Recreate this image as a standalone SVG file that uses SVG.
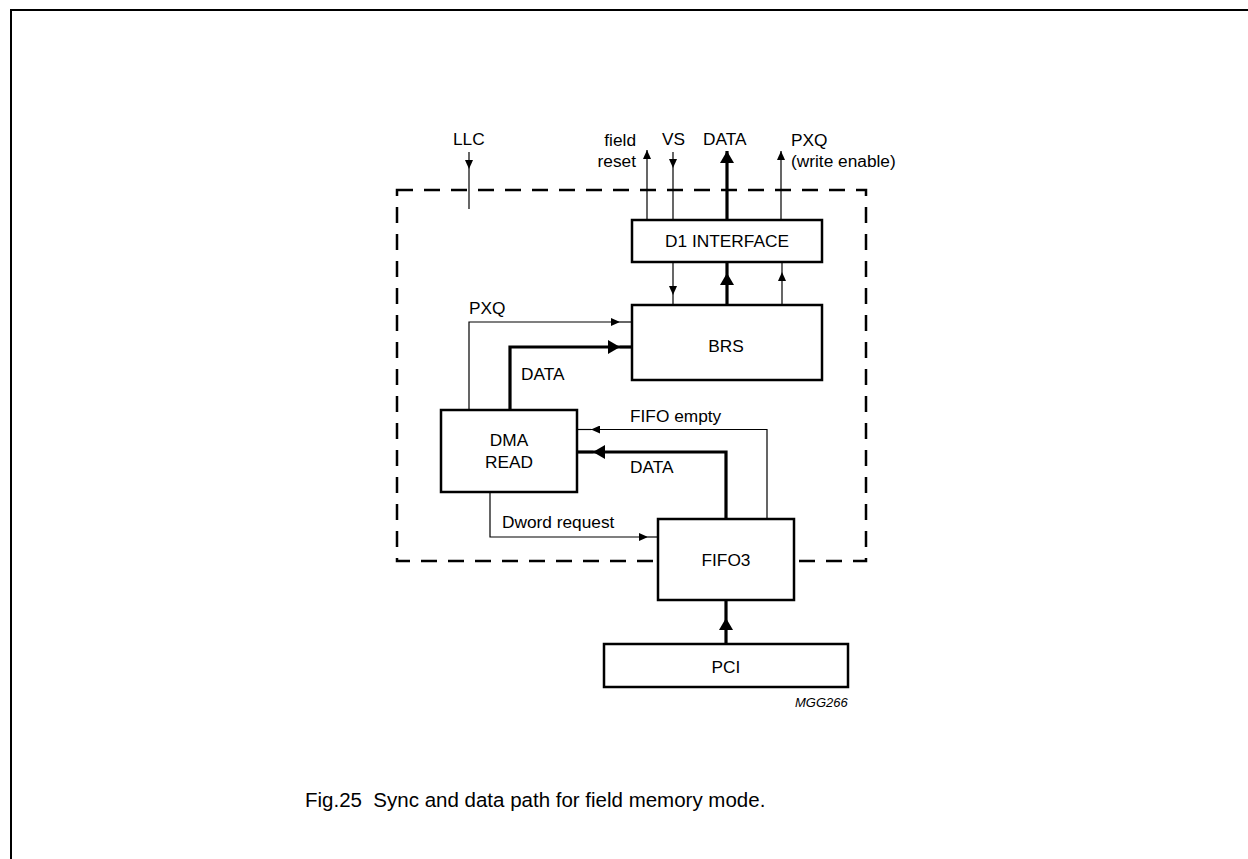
<svg xmlns="http://www.w3.org/2000/svg" width="1248" height="859" viewBox="0 0 1248 859">
<style>
text{font-family:"Liberation Sans",Arial,sans-serif;font-size:17.3px;fill:#000}
.c{text-anchor:middle}
.e{text-anchor:end}
.box{fill:#fff;stroke:#000;stroke-width:2.5}
.thin{fill:none;stroke:#000;stroke-width:1.2}
.thick{fill:none;stroke:#000;stroke-width:3.2}
.dash{fill:none;stroke:#000;stroke-width:2.5;stroke-dasharray:16 11}
</style>
<defs>
<marker id="at" markerUnits="userSpaceOnUse" viewBox="0 0 9 8" refX="9" refY="4" markerWidth="9" markerHeight="8" orient="auto"><path d="M0,0 L9,4 L0,8 z" fill="#000"/></marker>
<marker id="ak" markerUnits="userSpaceOnUse" viewBox="0 0 12 14" refX="12" refY="7" markerWidth="12" markerHeight="14" orient="auto"><path d="M0,0 L12,7 L0,14 z" fill="#000"/></marker>
</defs>
<rect width="1248" height="859" fill="#fff"/>
<path d="M11,859 V10 H1248" fill="none" stroke="#000" stroke-width="2"/>
<rect id="boundary" class="dash" x="397" y="190" width="469" height="371"/>
<g id="connectors">
<path class="thin" d="M469,152 V169" marker-end="url(#at)"/>
<path class="thin" d="M469,169 V209"/>
<path class="thin" d="M647,220 V150" marker-end="url(#at)"/>
<path class="thin" d="M673,152 V168" marker-end="url(#at)"/>
<path class="thin" d="M673,168 V220"/>
<path class="thick" d="M727,220 V151" marker-end="url(#ak)"/>
<path class="thin" d="M781,220 V151" marker-end="url(#at)"/>
<path class="thin" d="M673,262 V295" marker-end="url(#at)"/>
<path class="thin" d="M673,295 V305"/>
<path class="thick" d="M727,305 V273" marker-end="url(#ak)"/>
<path class="thick" d="M727,273 V262"/>
<path class="thin" d="M782,305 V272" marker-end="url(#at)"/>
<path class="thin" d="M782,272 V262"/>
<path class="thin" d="M469,410 V322 H620" marker-end="url(#at)"/>
<path class="thin" d="M620,322 H632"/>
<path class="thick" d="M510,410 V347 H620" marker-end="url(#ak)"/>
<path class="thick" d="M620,347 H632"/>
<path class="thin" d="M767,519 V429.5 H591" marker-end="url(#at)"/>
<path class="thin" d="M591,429.5 H577"/>
<path class="thick" d="M726,519 V452 H593" marker-end="url(#ak)"/>
<path class="thick" d="M593,452 H577"/>
<path class="thin" d="M490,492 V537 H648" marker-end="url(#at)"/>
<path class="thin" d="M648,537 H658"/>
<path class="thick" d="M726,644 V618" marker-end="url(#ak)"/>
<path class="thick" d="M726,618 V600"/>
</g>
<g id="labels">
<text x="453" y="145">LLC</text>
<text class="e" x="636" y="146">field</text>
<text class="e" x="636" y="167">reset</text>
<text x="662" y="145">VS</text>
<text x="703" y="145">DATA</text>
<text x="791" y="146">PXQ</text>
<text x="791" y="167">(write enable)</text>
<text x="469" y="314">PXQ</text>
<text x="521" y="380">DATA</text>
<text x="630" y="422">FIFO empty</text>
<text x="630" y="473">DATA</text>
<text x="502" y="528">Dword request</text>
</g>
<g id="d1"><rect class="box" x="632" y="220" width="190" height="42"/><text class="c" x="727" y="247">D1 INTERFACE</text></g>
<g id="brs"><rect class="box" x="632" y="305" width="190" height="75"/><text class="c" x="726" y="352">BRS</text></g>
<g id="dma"><rect class="box" x="441" y="410" width="136" height="82"/><text class="c" x="509" y="446">DMA</text><text class="c" x="509" y="468">READ</text></g>
<g id="fifo3"><rect class="box" x="658" y="519" width="136" height="81"/><text class="c" x="726" y="566">FIFO3</text></g>
<g id="pci"><rect class="box" x="604" y="644" width="244" height="43"/><text class="c" x="726" y="673">PCI</text></g>
<text x="795" y="707" style="font-size:13px;font-style:italic">MGG266</text>
<text x="305" y="807" style="font-size:20.5px" xml:space="preserve">Fig.25&#160; Sync and data path for field memory mode.</text>
</svg>
